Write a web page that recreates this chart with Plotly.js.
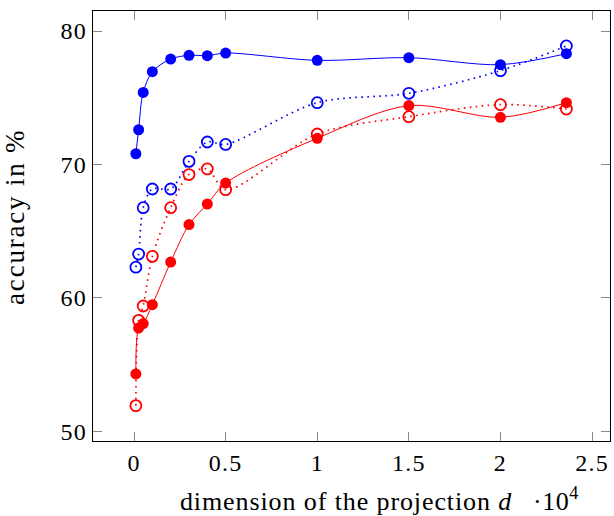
<!DOCTYPE html>
<html>
<head>
<meta charset="utf-8">
<script src="https://cdn.plot.ly/plotly-3.0.1.min.js"></script>
<style>
html,body{margin:0;padding:0;background:#fff;}
#chart{width:614px;height:516px;}
#chart .xtick text,#chart .ytick text{letter-spacing:1.2px;}
#chart g.annotation[data-index="0"] .annotation-text{letter-spacing:0.9px;}
#chart g.annotation[data-index="1"] .annotation-text{letter-spacing:1.8px;}
#chart g.annotation[data-index="2"] .annotation-text{letter-spacing:0.5px;}
</style>
</head>
<body>
<div id="chart"></div>
<script>
// dimension of the projection (x 10^4)
const dims = [0.01, 0.025, 0.05, 0.1, 0.2, 0.3, 0.4, 0.5, 1.0, 1.5, 2.0, 2.36];
const blueSolid = [70.8, 72.6, 75.4, 76.95, 77.9, 78.18, 78.15, 78.35, 77.8, 78.0, 77.48, 78.3];
const blueDotted = [62.3, 63.28, 66.76, 68.16, 68.16, 70.23, 71.68, 71.5, 74.63, 75.33, 77.03, 78.88];
const redSolid = [54.3, 57.74, 58.07, 59.49, 62.68, 65.49, 67.03, 68.6, 71.96, 74.41, 73.53, 74.63];
const redDotted = [51.92, 58.31, 59.39, 63.11, 66.76, 69.24, 69.66, 68.11, 72.28, 73.58, 74.48, 74.15];
const xTicks = [0, 0.5, 1, 1.5, 2, 2.5];
const xTickText = ['0', '0.5', '1', '1.5', '2', '2.5'];
const yTicks = [50, 60, 70, 80];
const xTitle = 'dimension of the projection <i>d</i>';
const yTitle = 'accuracy in %';
const xScale = '·10<sup>4</sup>';

const BLUE = '#0000ff', RED = '#ff0000';
const dotDash = '1.6px,4.4px';

function solid(y, c) {
  return {x: dims, y: y, mode: 'lines+markers', type: 'scatter',
    line: {color: c, width: 1, shape: 'spline', smoothing: 0.9},
    marker: {symbol: 'circle', size: 11, color: c}};
}
function dotted(y, c) {
  return {x: dims, y: y, mode: 'lines+markers', type: 'scatter',
    line: {color: c, width: 1.7, dash: dotDash, shape: 'spline', smoothing: 0.9},
    marker: {symbol: 'circle-open', size: 11, color: c, line: {color: c, width: 1.8}}};
}

const data = [dotted(redDotted, RED), solid(redSolid, RED), dotted(blueDotted, BLUE), solid(blueSolid, BLUE)];

const FAM = 'Liberation Serif, serif';
const tickFont = {family: FAM, size: 24, color: '#000'};
const xTitleFont = {family: FAM, size: 26, color: '#000'};
const yTitleFont = {family: FAM, size: 27, color: '#000'};
const layout = {
  width: 614, height: 516,
  margin: {l: 93, r: 4, t: 11, b: 75, pad: 0},
  paper_bgcolor: '#fff', plot_bgcolor: '#fff',
  showlegend: false,
  font: tickFont,
  xaxis: {
    range: [-0.224, 2.598], tickvals: xTicks, ticktext: xTickText,
    ticks: 'inside', ticklen: 9, tickcolor: '#888', tickwidth: 1,
    showline: true, linecolor: '#000', linewidth: 1.2, mirror: 'allticks',
    showgrid: false, zeroline: false, tickfont: tickFont
  },
  yaxis: {
    range: [49.27, 81.5], tickvals: yTicks,
    ticks: 'inside', ticklen: 9, tickcolor: '#888', tickwidth: 1,
    showline: true, linecolor: '#000', linewidth: 1.2, mirror: 'allticks',
    showgrid: false, zeroline: false, tickfont: tickFont
  },
  annotations: [
    {text: xTitle, xref: 'paper', yref: 'paper', x: 0.4897, y: -0.1403,
     xanchor: 'center', yanchor: 'middle', showarrow: false, font: xTitleFont},
    {text: yTitle, xref: 'paper', yref: 'paper', x: -0.152, y: 0.5214, textangle: -90,
     xanchor: 'center', yanchor: 'middle', showarrow: false, font: yTitleFont},
    {text: xScale, xref: 'paper', yref: 'paper', x: 0.896, y: -0.180,
     xanchor: 'center', yanchor: 'bottom', showarrow: false, font: xTitleFont}
  ]
};
Plotly.newPlot('chart', data, layout, {displayModeBar: false, staticPlot: true});
</script>
</body>
</html>
